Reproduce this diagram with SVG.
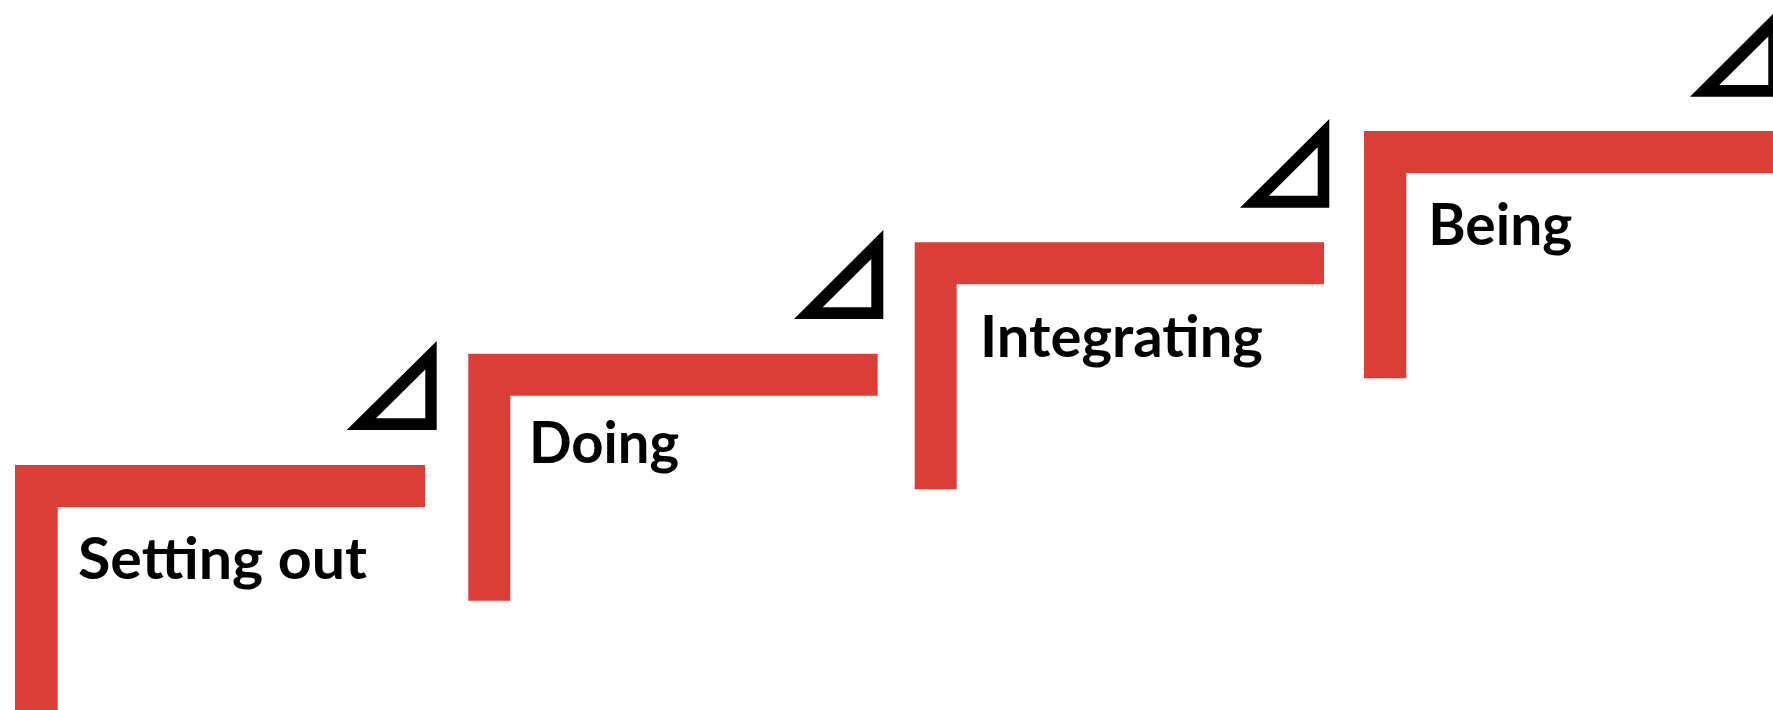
<svg xmlns="http://www.w3.org/2000/svg" width="1773" height="710" viewBox="0 0 1773 710">
  <style>
    .step { fill: #DB3E36; }
    .label { font-family: "Lato", "Open Sans", "Liberation Sans", sans-serif; font-weight: 700; font-size: 57px; fill: #000000; }
    .tri { fill: #000000; fill-rule: evenodd; }
  </style>
  <rect width="1773" height="710" fill="#FFFFFF"/>
  <g id="step-setting-out">
    <path class="step" d="M15,465 H425 V507 H57.7 V710 H15 Z"/>
    <text class="label" x="78" y="579.3" textLength="289" lengthAdjust="spacingAndGlyphs">Setting out</text>
  </g>
  <g id="step-doing">
    <path class="step" d="M468.3,353.7 H877.7 V395.7 H510.3 V600.7 H468.3 Z"/>
    <text class="label" x="529" y="463.3" textLength="150" lengthAdjust="spacingAndGlyphs">Doing</text>
  </g>
  <g id="step-integrating">
    <path class="step" d="M914.7,242.3 H1324 V284.3 H956.7 V489.3 H914.7 Z"/>
    <text class="label" x="980" y="356.7" textLength="283" lengthAdjust="spacingAndGlyphs">Integrating</text>
  </g>
  <g id="step-being">
    <path class="step" d="M1364,131 H1780 V173 H1406.3 V378.3 H1364 Z"/>
    <text class="label" x="1428.3" y="245" textLength="144" lengthAdjust="spacingAndGlyphs">Being</text>
  </g>
  <g id="markers">
    <path id="tri-1" class="tri" d="M346.7,430 L436.7,341 V430 Z M376,418.3 L425.3,369.5 V418.3 Z"/>
    <path id="tri-2" class="tri" d="M794,319 L883.3,230 V319 Z M822.7,307.3 L871.3,259 V307.3 Z"/>
    <path id="tri-3" class="tri" d="M1240,207.7 L1329.3,119 V207.7 Z M1269,195.7 L1317.7,147.3 V195.7 Z"/>
    <path id="tri-4" class="tri" d="M1690,96.7 L1780,7 V96.7 Z M1719.3,85 L1768.3,36.5 V85 Z"/>
  </g>
</svg>
